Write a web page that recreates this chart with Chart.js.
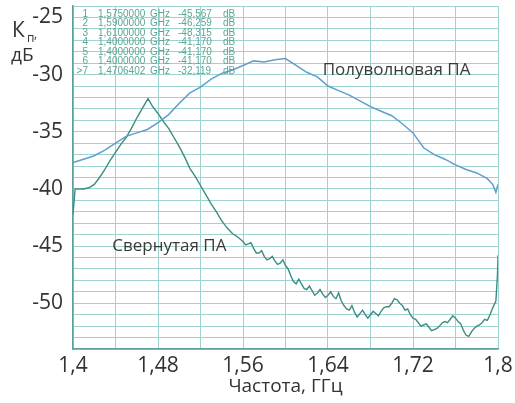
<!DOCTYPE html>
<html>
<head>
<meta charset="utf-8">
<script src="https://cdn.jsdelivr.net/npm/chart.js@4"></script>
<style>
  html, body { margin: 0; padding: 0; background: #fff; }
  #wrap { width: 515px; height: 403px; }
</style>
</head>
<body>
<div id="wrap"><canvas id="chart"></canvas></div>
<script>
// Полуволновая ПА (half-wave antenna), GHz / dB
const halfWaveFreq = [1.40, 1.41, 1.42, 1.43, 1.44, 1.45, 1.46, 1.47, 1.48, 1.49,
  1.50, 1.51, 1.52, 1.53, 1.54, 1.55, 1.56, 1.57, 1.58, 1.59,
  1.60, 1.61, 1.62, 1.63, 1.64, 1.65, 1.66, 1.67, 1.68, 1.69,
  1.70, 1.71, 1.72, 1.73, 1.74, 1.75, 1.76, 1.77, 1.78, 1.79,
  1.795, 1.798, 1.80];
const halfWaveLevel = [-37.7, -37.4, -37.1, -36.6, -36.0, -35.4, -35.1, -34.8, -34.2, -33.5,
  -32.5, -31.6, -31.1, -30.4, -29.9, -29.6, -29.2, -28.8, -28.9, -28.7,
  -28.6, -29.2, -29.8, -30.2, -31.0, -31.4, -31.8, -32.3, -32.8, -33.2,
  -33.6, -34.3, -35.1, -36.4, -37.0, -37.4, -37.9, -38.3, -38.6, -39.1,
  -39.6, -40.3, -39.6];

// Свернутая ПА (folded antenna)
const foldedFreq = [1.400, 1.402, 1.405, 1.410, 1.415, 1.420, 1.425, 1.430, 1.435, 1.440,
  1.445, 1.450, 1.455, 1.460, 1.465, 1.4706, 1.475, 1.480, 1.485, 1.490,
  1.495, 1.500, 1.505, 1.510, 1.515, 1.520, 1.525, 1.530, 1.535, 1.540,
  1.545, 1.550, 1.555, 1.560, 1.5625, 1.565, 1.5675, 1.570, 1.5725, 1.575,
  1.5775, 1.580, 1.5825, 1.585, 1.5875, 1.590, 1.5925, 1.595, 1.5975, 1.600,
  1.6025, 1.605, 1.6075, 1.610, 1.6125, 1.615, 1.6175, 1.620, 1.6225, 1.625,
  1.6275, 1.630, 1.6325, 1.635, 1.6375, 1.640, 1.6425, 1.645, 1.6475, 1.650,
  1.6525, 1.655, 1.6575, 1.660, 1.6625, 1.665, 1.6675, 1.670, 1.6725, 1.675,
  1.6775, 1.680, 1.6825, 1.685, 1.6875, 1.690, 1.6925, 1.695, 1.6975, 1.700,
  1.7025, 1.705, 1.7075, 1.710, 1.7125, 1.715, 1.7175, 1.720, 1.7225, 1.725,
  1.7275, 1.730, 1.7325, 1.735, 1.7375, 1.740, 1.7425, 1.745, 1.7475, 1.750,
  1.7525, 1.755, 1.7575, 1.760, 1.7625, 1.765, 1.7675, 1.770, 1.7725, 1.775,
  1.7775, 1.780, 1.7825, 1.785, 1.7875, 1.790, 1.7925, 1.795, 1.798, 1.7995, 1.800];
const foldedLevel = [-42.2, -40.0, -40.0, -40.0, -39.9, -39.6, -39.0, -38.3, -37.5, -36.8,
  -36.1, -35.5, -34.7, -33.8, -33.0, -32.1, -32.8, -33.4, -34.1, -34.7,
  -35.5, -36.3, -37.2, -38.2, -38.9, -39.7, -40.5, -41.3, -42.0, -42.8,
  -43.4, -43.9, -44.2, -44.6, -44.9, -44.8, -44.7, -45.2, -45.6, -45.6,
  -45.4, -45.9, -46.2, -46.1, -45.9, -46.3, -46.6, -46.5, -46.2, -46.7,
  -47.0, -47.6, -48.1, -48.3, -47.9, -48.3, -48.7, -48.8, -48.5, -48.9,
  -49.3, -49.1, -48.8, -49.2, -49.5, -49.3, -49.0, -49.4, -49.6, -49.1,
  -49.8, -50.2, -50.5, -50.6, -50.2, -50.8, -51.2, -50.9, -50.6, -51.0,
  -51.3, -51.0, -50.7, -50.9, -51.1, -50.7, -50.4, -50.3, -50.3, -50.0,
  -49.6, -49.7, -50.0, -50.2, -50.6, -50.5, -51.0, -51.3, -51.4, -51.7,
  -52.0, -51.9, -51.8, -52.1, -52.4, -52.3, -52.2, -52.0, -51.7, -51.6,
  -51.7, -51.4, -51.1, -51.3, -51.6, -51.8, -52.4, -52.8, -52.9, -52.5,
  -52.2, -52.0, -51.9, -51.7, -51.4, -51.5, -51.0, -50.4, -49.8, -47.5, -45.8];

// marker table from the analyzer screen
const markerNames = ['1', '2', '3', '4', '5', '6', '>7'];
const markerFreqs = ['1,5750000', '1,5900000', '1,6100000', '1,4000000', '1,4000000', '1,4000000', '1,4706402'];
const markerLevels = ['-45,567', '-46,259', '-48,315', '-41,170', '-41,170', '-41,170', '-32,119'];

const xMin = 1.4, xMax = 1.8, xStep = 0.04;
const yMin = -54, yMax = -24;

const toPoints = (xs, ys) => xs.map((x, i) => ({ x: x, y: ys[i] }));

const sans = "'Open Sans', 'Noto Sans', sans-serif";

const labelsPlugin = {
  id: 'labels',
  afterDraw(chart) {
    const c = chart.ctx;
    const xs = chart.scales.x, ys = chart.scales.y;
    c.save();
    // axis name Kп, дБ
    c.fillStyle = '#333';
    c.textBaseline = 'alphabetic';
    c.textAlign = 'left';
    c.font = '21px ' + sans;
    c.fillText('К', 12, 37);
    c.font = '12px ' + sans;
    c.fillText('п', 27, 42);
    c.fillText(',', 34, 38);
    c.font = '19px ' + sans;
    c.fillText('дБ', 11, 61);

    // curve names
    c.font = '17px ' + sans;
    c.fillStyle = '#3a3a3a';
    c.textBaseline = 'middle';
    c.fillText('Полуволновая ПА', xs.getPixelForValue(1.635), ys.getPixelForValue(-29.6));
    c.fillText('Свернутая ПА', xs.getPixelForValue(1.437), ys.getPixelForValue(-45.0));

    // marker table
    c.font = '10px "Liberation Sans", sans-serif';
    c.fillStyle = '#5aa596';
    for (let i = 0; i < markerNames.length; i++) {
      const y = 14 + i * 9.5;
      c.textAlign = 'right';
      c.fillText(markerNames[i], 88, y);
      c.textAlign = 'left';
      c.fillText(markerFreqs[i], 98, y);
      c.fillText('GHz', 150, y);
      c.fillText(markerLevels[i], 178, y);
      c.fillText('dB', 223, y);
    }
    c.restore();
  }
};

new Chart(document.getElementById('chart'), {
  type: 'line',
  data: {
    datasets: [{
      label: 'Полуволновая ПА',
      data: toPoints(halfWaveFreq, halfWaveLevel),
      borderColor: '#5f9fcb',
      borderWidth: 1.5
    }, {
      label: 'Свернутая ПА',
      data: toPoints(foldedFreq, foldedLevel),
      borderColor: '#3b8d84',
      borderWidth: 1.4
    }]
  },
  options: {
    responsive: true,
    maintainAspectRatio: false,
    animation: false,
    layout: { padding: { left: 0, right: 17, top: 6, bottom: 5 } },
    elements: { point: { radius: 0 }, line: { tension: 0 } },
    plugins: {
      legend: { display: false },
      tooltip: { enabled: false }
    },
    scales: {
      x: {
        type: 'linear',
        min: xMin,
        max: xMax,
        afterFit(scale) {
          scale.height = 49;
          scale.paddingLeft = 0;
          scale.paddingRight = 0;
        },
        border: { display: true, color: '#5e9e9c', width: 1.5 },
        grid: { color: '#9fd3cf', drawTicks: false },
        ticks: {
          stepSize: xStep,
          padding: 4,
          maxRotation: 0,
          autoSkip: false,
          color: '#333',
          font: { family: sans, size: 21 },
          callback: v => {
            const i = Math.round((v - xMin) / xStep);
            return i % 2 === 0 ? String(+v.toFixed(2)).replace('.', ',') : '';
          }
        },
        title: {
          display: true,
          text: 'Частота, ГГц',
          color: '#333',
          font: { family: sans, size: 19 },
          padding: 0
        }
      },
      y: {
        min: yMin,
        max: yMax,
        afterFit(scale) {
          scale.width = 73;
          scale.paddingTop = 0;
          scale.paddingBottom = 0;
        },
        border: { display: true, color: '#5e9e9c', width: 1.5 },
        grid: { color: '#9fd3cf', drawTicks: false },
        ticks: {
          stepSize: 1,
          maxTicksLimit: 100,
          padding: 10,
          autoSkip: false,
          color: '#333',
          font: { family: sans, size: 21 },
          callback: v => (v % 5 === 0 ? String(v) : '')
        }
      }
    }
  },
  plugins: [labelsPlugin]
});
</script>
</body>
</html>
